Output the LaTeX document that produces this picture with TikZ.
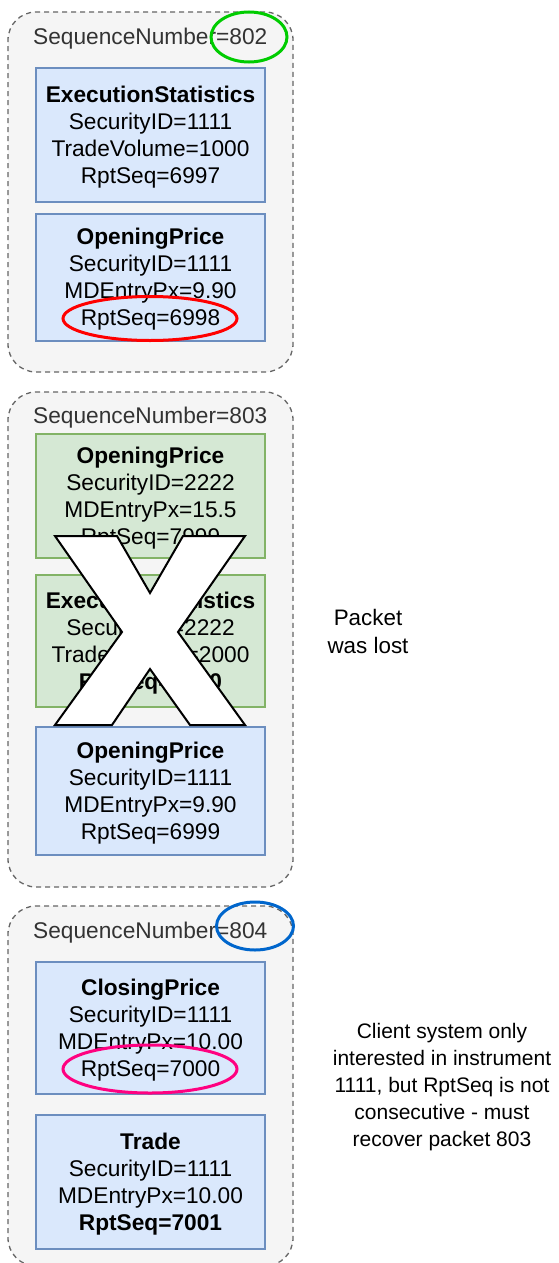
\documentclass[tikz,border=0pt]{standalone}
\usepackage{fontspec}
\setmainfont{Liberation Sans}
\usetikzlibrary{shapes.geometric}
\definecolor{pktfill}{HTML}{F5F5F5}
\definecolor{pktdraw}{HTML}{666666}
\definecolor{pkttext}{HTML}{333333}
\definecolor{bluefill}{HTML}{DAE8FC}
\definecolor{bluedraw}{HTML}{6C8EBF}
\definecolor{greenfill}{HTML}{D5E8D4}
\definecolor{greendraw}{HTML}{82B366}
\definecolor{ringgreen}{HTML}{00CC00}
\definecolor{ringred}{HTML}{FF0000}
\definecolor{ringblue}{HTML}{0066CC}
\definecolor{ringpink}{HTML}{FF0080}
\tikzset{packet/.style={draw=pktdraw, fill=pktfill, dash pattern=on 5pt off 4pt, line width=1.3pt, rounded corners=28pt, minimum width=285pt, inner sep=0pt}}
\tikzset{seqlbl/.style={anchor=west, inner sep=0pt, text=pkttext, font=\fontsize{22.7}{27}\selectfont}}
\tikzset{msgb/.style={draw=bluedraw, fill=bluefill, line width=1.5pt, minimum width=229pt, inner sep=0pt, align=center, text height=101.5pt, font=\fontsize{22.7}{27}\selectfont}}
\tikzset{msgg/.style={msgb, draw=greendraw, fill=greenfill}}
\tikzset{ring/.style={ellipse, draw=#1, line width=3pt, inner sep=0pt}}
\tikzset{note/.style={align=center, inner sep=0pt, font=\fontsize{22.4}{28}\selectfont}}
\tikzset{cross/.style={draw=black, fill=white, line width=2pt, line join=miter}}

\begin{document}
\begin{tikzpicture}[x=1pt, y=-1pt]
                        \useasboundingbox (0, 0) rectangle (559, 1263);
                        \node[packet, minimum height=360pt] (p802) at (150.5, 192) {};
                        \node[packet, minimum height=495pt] (p803) at (150.5, 639.5) {};
                        \node[packet, minimum height=360pt] (p804) at (150.5, 1086) {};

                        \node[seqlbl] (s802) at (33, 39) {SequenceNumber=802};
                        \node[seqlbl] (s803) at (33, 418) {SequenceNumber=803};
                        \node[seqlbl] (s804) at (33, 933) {SequenceNumber=804};

                        \node[msgb, minimum height=134pt] (m1) at (150.5, 135) {\textbf{ExecutionStatistics}\\SecurityID=1111\\TradeVolume=1000\\RptSeq=6997};
                        \node[msgb, minimum height=127pt] (m2) at (150.5, 277.5) {\textbf{OpeningPrice}\\SecurityID=1111\\MDEntryPx=9.90\\RptSeq=6998};
                        \node[msgg, minimum height=124pt] (m3) at (150.5, 496) {\textbf{OpeningPrice}\\SecurityID=2222\\MDEntryPx=15.5\\RptSeq=7999};
                        \node[msgg, minimum height=132pt] (m4) at (150.5, 641) {\textbf{ExecutionStatistics}\\SecurityID=2222\\TradeVolume=2000\\\textbf{RptSeq=8000}};
                        \node[msgb, minimum height=128pt] (m5) at (150.5, 791) {\textbf{OpeningPrice}\\SecurityID=1111\\MDEntryPx=9.90\\RptSeq=6999};
                        \node[msgb, minimum height=132pt] (m6) at (150.5, 1028) {\textbf{ClosingPrice}\\SecurityID=1111\\MDEntryPx=10.00\\RptSeq=7000};
                        \node[msgb, minimum height=134pt] (m7) at (150.5, 1182) {\textbf{Trade}\\SecurityID=1111\\MDEntryPx=10.00\\\textbf{RptSeq=7001}};

                        % lost packet
                        \draw[cross] (55, 536) -- (117, 536) -- (150, 593) -- (183, 536) -- (245, 536) -- (178, 632)
                        -- (245, 725) -- (190, 725) -- (150, 669) -- (112, 725) -- (55, 725) -- (122, 632) -- cycle;

                        \node[ring=ringgreen, minimum width=76pt, minimum height=50pt] (r802) at (249, 37) {};
                        \node[ring=ringred, minimum width=174pt, minimum height=44pt] (r6998) at (150, 318.5) {};
                        \node[ring=ringblue, minimum width=77pt, minimum height=48pt] (r804) at (255, 926) {};
                        \node[ring=ringpink, minimum width=174pt, minimum height=48pt] (r7000) at (150, 1069) {};

                        \node[note] (lost) at (368, 631) {Packet\\was lost};
                        \node[note, font=\fontsize{21}{27}\selectfont] (client) at (442, 1087) {Client system only\\interested in instrument\\1111, but RptSeq is not\\consecutive - must\\recover packet 803};
                    \end{tikzpicture}
\end{document}
